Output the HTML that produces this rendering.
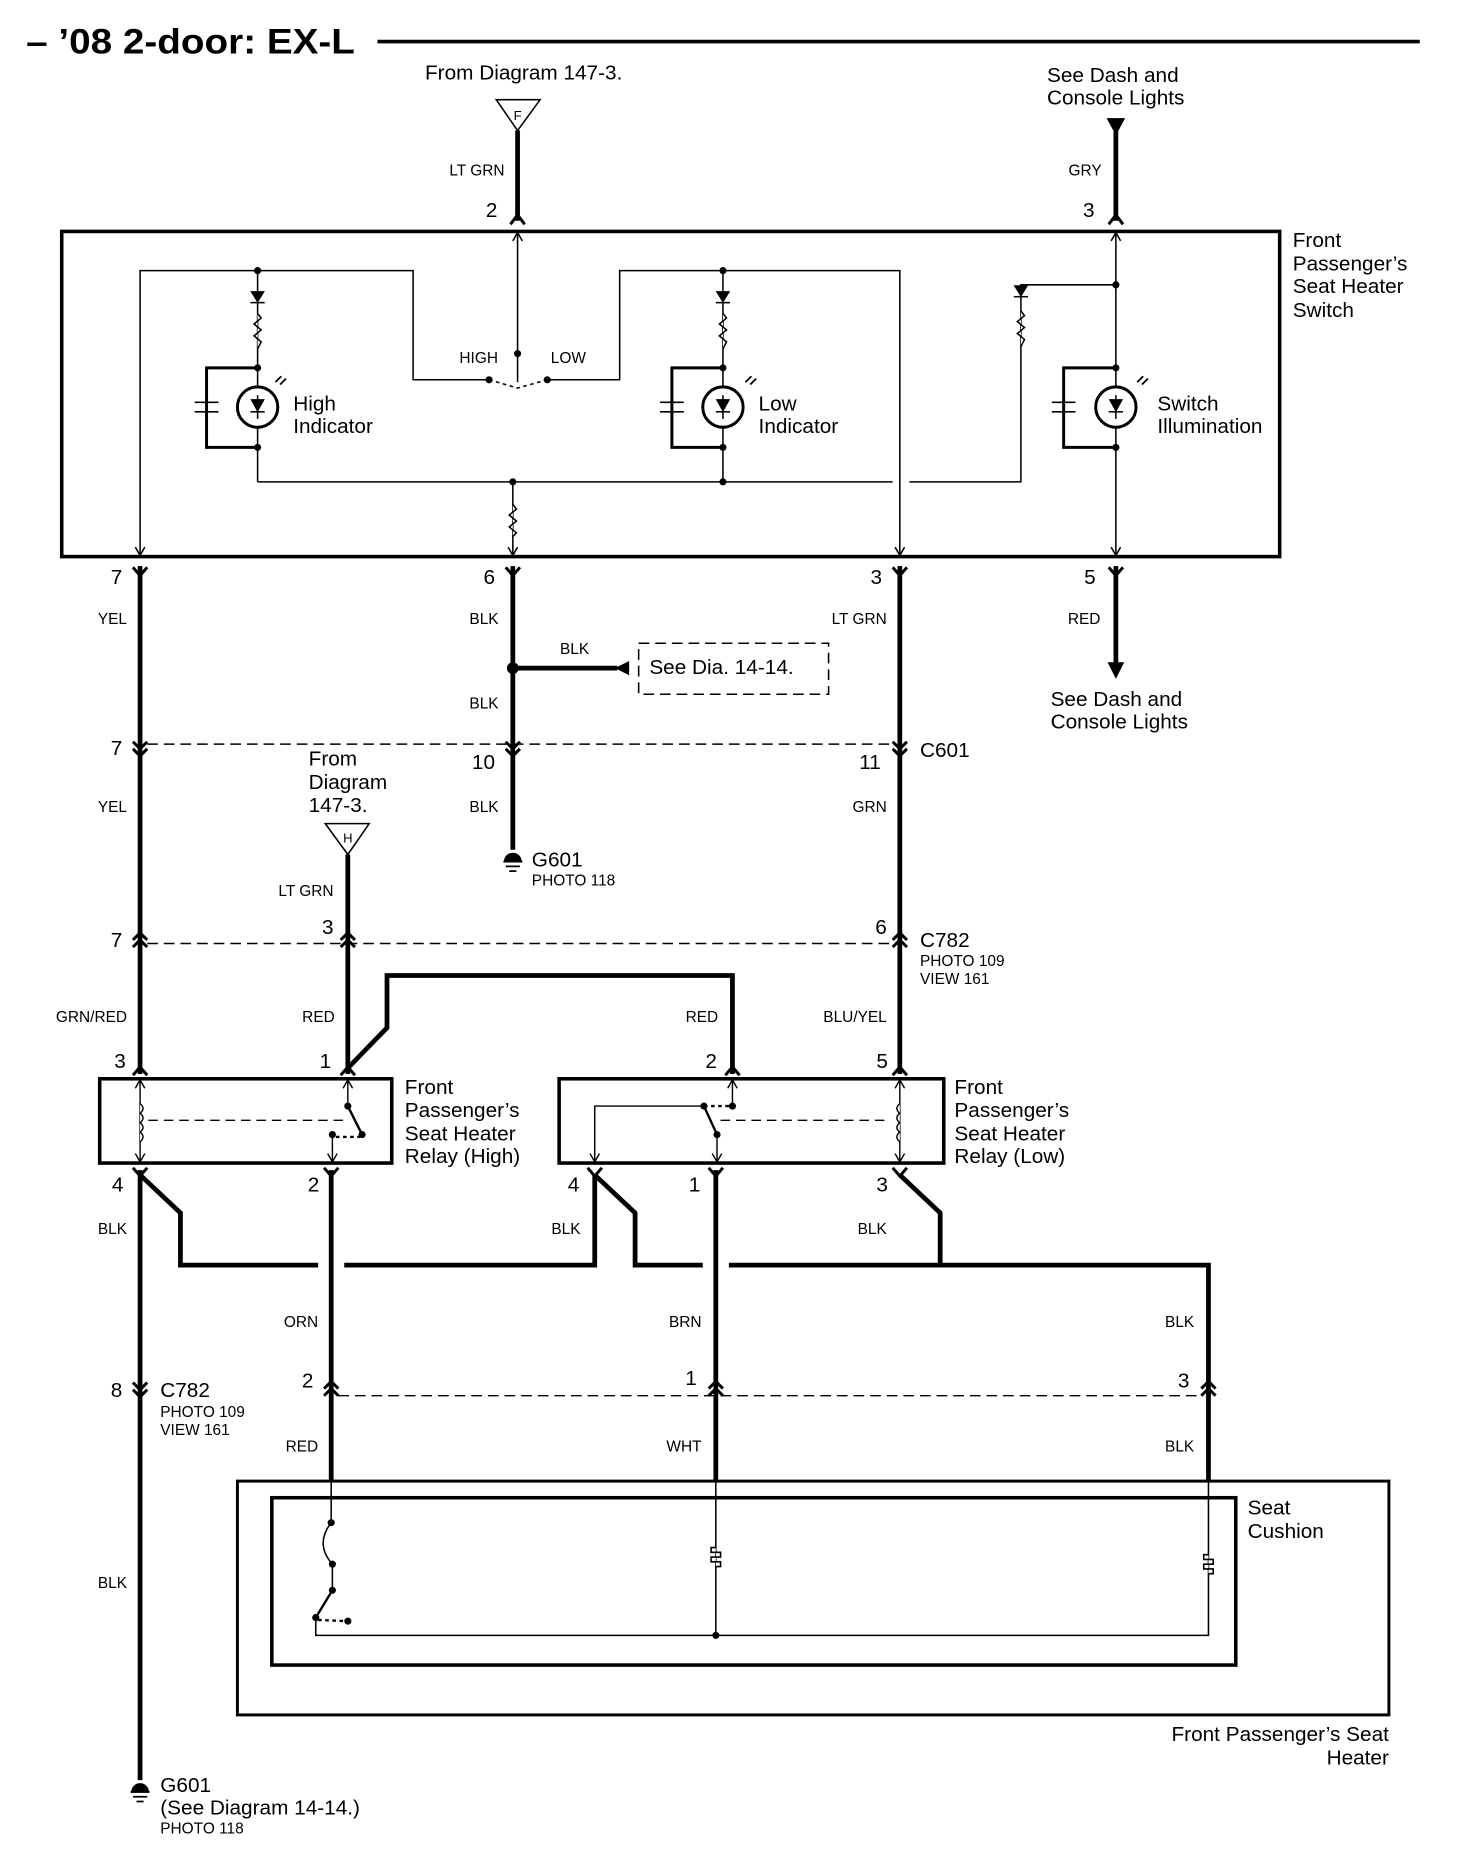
<!DOCTYPE html>
<html><head><meta charset="utf-8"><style>
html,body{margin:0;padding:0;background:#fff}
svg{display:block}
text{font-family:"Liberation Sans",sans-serif;fill:#000}
.s{font-size:13px}.m{font-size:17.5px}
</style></head><body>
<svg width="1472" height="1868" viewBox="0 0 1240 1574" preserveAspectRatio="none" xmlns="http://www.w3.org/2000/svg">
<g stroke="#000" fill="none" stroke-linecap="butt">
<line x1="318" y1="35" x2="1196" y2="35" stroke-width="3"/>
<polygon points="418,84 455,84 436,110" stroke-width="1.3"/>
<line x1="436" y1="110" x2="436" y2="186" stroke-width="4"/>
<polygon points="933,100 947,100 940,113" fill="#000"/>
<line x1="940" y1="100" x2="940" y2="186" stroke-width="4"/>
<polyline points="430,189 436,181 442,189" stroke-width="2.5"/>
<polyline points="934,189 940,181 946,189" stroke-width="2.5"/>
<rect x="52" y="195" width="1026" height="274" stroke-width="3"/>
<g stroke-width="1.3">
<line x1="436" y1="195" x2="436" y2="322"/>
<polyline points="432,203 436,196 440,203"/>
<polyline points="118,469 118,228 348,228 348,320 412,320"/>
<polyline points="114,461 118,468 122,461"/>
<polyline points="461,320 522,320 522,228 758,228 758,469"/>
<polyline points="754,461 758,468 762,461"/>
<path d="M412,320 L436,327 L461,320" stroke-dasharray="3,3"/>
<line x1="217" y1="228" x2="217" y2="326"/>
<line x1="217" y1="360" x2="217" y2="406"/>
<polygon points="212,246 222,246 217,254" fill="#000"/><line x1="211" y1="255" x2="223" y2="255"/>
<polyline points="217,264 220,268 214,273 220,278 214,283 220,288 217,294" fill="#fff"/>
<circle cx="217" cy="343" r="17" stroke-width="2.5" fill="#fff"/>
<polygon points="212,337 222,337 217,346" fill="#000"/><line x1="211" y1="347" x2="223" y2="347"/><line x1="217" y1="333" x2="217" y2="353"/>
<polyline points="217,310 174,310 174,377 217,377" stroke-width="2.5"/>
<line x1="164" y1="339" x2="184" y2="339"/><line x1="164" y1="347" x2="184" y2="347"/>
<line x1="609" y1="228" x2="609" y2="326"/>
<line x1="609" y1="360" x2="609" y2="406"/>
<polygon points="604,246 614,246 609,254" fill="#000"/><line x1="603" y1="255" x2="615" y2="255"/>
<polyline points="609,264 612,268 606,273 612,278 606,283 612,288 609,294" fill="#fff"/>
<circle cx="609" cy="343" r="17" stroke-width="2.5" fill="#fff"/>
<polygon points="604,337 614,337 609,346" fill="#000"/><line x1="603" y1="347" x2="615" y2="347"/><line x1="609" y1="333" x2="609" y2="353"/>
<polyline points="609,310 566,310 566,377 609,377" stroke-width="2.5"/>
<line x1="556" y1="339" x2="576" y2="339"/><line x1="556" y1="347" x2="576" y2="347"/>
<line x1="217" y1="406" x2="752" y2="406"/>
<polyline points="766,406 860,406 860,240 940,240"/>
<line x1="432" y1="406" x2="432" y2="469"/>
<polyline points="432,425 435,429 429,434 435,439 429,444 435,449 432,452" fill="#fff"/>
<polyline points="428,461 432,468 436,461"/>
<polygon points="855,241 865,241 860,249" fill="#000"/><line x1="854" y1="250" x2="866" y2="250"/>
<polyline points="860,262 863,266 857,271 863,276 857,281 863,286 860,292" fill="#fff"/>
<line x1="940" y1="195" x2="940" y2="326"/>
<line x1="940" y1="360" x2="940" y2="469"/>
<polyline points="936,203 940,196 944,203"/>
<polyline points="936,461 940,468 944,461"/>
<circle cx="940" cy="343" r="17" stroke-width="2.5" fill="#fff"/>
<polygon points="935,337 945,337 940,346" fill="#000"/><line x1="934" y1="347" x2="946" y2="347"/><line x1="940" y1="333" x2="940" y2="353"/>
<polyline points="940,310 896,310 896,377 940,377" stroke-width="2.5"/>
<line x1="886" y1="339" x2="906" y2="339"/><line x1="886" y1="347" x2="906" y2="347"/>
</g>
<g fill="#000" stroke="none">
<circle cx="436" cy="298" r="3"/><circle cx="412" cy="320" r="3"/><circle cx="461" cy="320" r="3"/>
<circle cx="217" cy="228" r="3"/><circle cx="217" cy="310" r="3"/><circle cx="217" cy="377" r="3"/>
<circle cx="609" cy="228" r="3"/><circle cx="609" cy="310" r="3"/><circle cx="609" cy="377" r="3"/><circle cx="609" cy="406" r="3"/>
<circle cx="432" cy="406" r="3"/><circle cx="940" cy="240" r="3"/><circle cx="940" cy="310" r="3"/><circle cx="940" cy="377" r="3"/>
<circle cx="432" cy="563" r="5"/>
</g>
<g stroke-width="1.5">
<path d="M232,322 l5,-5 M236,324 l5,-5 M628,322 l5,-5 M632,324 l5,-5 M958,322 l5,-5 M962,324 l5,-5"/>
</g>
<g stroke-width="4">
<line x1="118" y1="477" x2="118" y2="905"/>
<line x1="118" y1="986" x2="118" y2="1500"/>
<line x1="432" y1="477" x2="432" y2="716"/>
<line x1="758" y1="477" x2="758" y2="905"/>
<line x1="940" y1="477" x2="940" y2="560"/>
<line x1="432" y1="563" x2="520" y2="563"/>
<line x1="293" y1="720" x2="293" y2="905"/>
<polyline points="293,900 326,866 326,822 617,822 617,905"/>
<polyline points="118,990 152,1022 152,1066 268,1066"/>
<polyline points="290,1066 501,1066 501,990"/>
<polyline points="501,990 535,1022 535,1066 592,1066"/>
<polyline points="614,1066 1018,1066 1018,1248"/>
<polyline points="758,990 792,1022 792,1066"/>
<line x1="279" y1="986" x2="279" y2="1248"/>
<line x1="603" y1="986" x2="603" y2="1248"/>
</g>
<polygon points="933,558 947,558 940,572" fill="#000" stroke="none"/>
<polygon points="530,557 530,569 518,563" fill="#000" stroke="none"/>
<polygon points="274,694 311,694 293,720" stroke-width="1.3"/>
<g stroke-width="2.5">
<path d="M112,478 l6,7 l6,-7 M426,478 l6,7 l6,-7 M752,478 l6,7 l6,-7 M934,478 l6,7 l6,-7"/>
<path d="M112,625 l6,6 l6,-6 M112,631 l6,6 l6,-6 M426,625 l6,6 l6,-6 M426,631 l6,6 l6,-6 M752,625 l6,6 l6,-6 M752,631 l6,6 l6,-6"/>
<path d="M112,792 l6,-6 l6,6 M112,798 l6,-6 l6,6 M287,792 l6,-6 l6,6 M287,798 l6,-6 l6,6 M752,792 l6,-6 l6,6 M752,798 l6,-6 l6,6"/>
<path d="M112,906 l6,-7 l6,7 M287,906 l6,-7 l6,7 M611,906 l6,-7 l6,7 M752,906 l6,-7 l6,7"/>
<path d="M112,984 l6,7 l6,-7 M273,984 l6,7 l6,-7 M495,984 l6,7 l6,-7 M597,984 l6,7 l6,-7 M752,984 l6,7 l6,-7"/>
<path d="M112,1165 l6,6 l6,-6 M112,1171 l6,6 l6,-6"/>
<path d="M273,1170 l6,-6 l6,6 M273,1176 l6,-6 l6,6 M597,1170 l6,-6 l6,6 M597,1176 l6,-6 l6,6 M1012,1170 l6,-6 l6,6 M1012,1176 l6,-6 l6,6"/>
</g>
<g stroke-width="1.2" stroke-dasharray="9,5">
<line x1="124" y1="627" x2="752" y2="627"/>
<line x1="124" y1="795" x2="752" y2="795"/>
<line x1="285" y1="1176" x2="1012" y2="1176"/>
</g>
<rect x="538" y="542" width="160" height="43" stroke-width="1.3" stroke-dasharray="9,5"/>
<g stroke-width="1.5">
<path d="M424,726 h16 M426,730 h12 M429,734 h6"/>
<path d="M110,1510 h16 M112,1514 h12 M115,1518 h6"/>
</g>
<path d="M425,726 a7,7 0 0 1 14,0 z" fill="#000"/>
<path d="M111,1510 a7,7 0 0 1 14,0 z" fill="#000"/>
<rect x="84" y="909" width="246" height="71" stroke-width="3"/>
<rect x="471" y="909" width="324" height="71" stroke-width="3"/>
<g stroke-width="1.2">
<line x1="118" y1="909" x2="118" y2="980"/>
<path d="M114,917 l4,-7 l4,7 M114,972 l4,7 l4,-7"/>
<path d="M118,930 q5,4 0,8 q5,4 0,8 q5,4 0,8 q5,4 0,8" fill="#fff"/>
<line x1="125" y1="944" x2="292" y2="944" stroke-dasharray="8,5"/>
<line x1="293" y1="909" x2="293" y2="932"/>
<path d="M289,917 l4,-7 l4,7"/>
<line x1="293" y1="932" x2="305" y2="956" stroke-width="2"/>
<line x1="280" y1="956" x2="280" y2="980"/><path d="M276,972 l4,7 l4,-7"/>
<line x1="283" y1="958" x2="303" y2="958" stroke-dasharray="3,3" stroke-width="2"/>
<line x1="758" y1="909" x2="758" y2="980"/>
<path d="M754,917 l4,-7 l4,7 M754,972 l4,7 l4,-7"/>
<path d="M758,930 q-5,4 0,8 q-5,4 0,8 q-5,4 0,8 q-5,4 0,8" fill="#fff"/>
<line x1="607" y1="944" x2="750" y2="944" stroke-dasharray="8,5"/>
<line x1="617" y1="909" x2="617" y2="932"/><path d="M613,917 l4,-7 l4,7"/>
<line x1="593" y1="932" x2="615" y2="932" stroke-dasharray="3,3" stroke-width="2"/>
<polyline points="593,932 501,932 501,980"/><path d="M497,972 l4,7 l4,-7"/>
<line x1="593" y1="932" x2="604" y2="956" stroke-width="2"/>
<line x1="604" y1="956" x2="604" y2="980"/><path d="M600,972 l4,7 l4,-7"/>
</g>
<g fill="#000" stroke="none">
<circle cx="293" cy="932" r="3"/><circle cx="305" cy="956" r="3"/><circle cx="280" cy="956" r="3"/>
<circle cx="617" cy="932" r="3"/><circle cx="593" cy="932" r="3"/><circle cx="604" cy="956" r="3"/>
</g>
<rect x="200" y="1248" width="970" height="197" stroke-width="2.5"/>
<rect x="229" y="1262" width="812" height="141" stroke-width="3"/>
<g stroke-width="1.3">
<line x1="279" y1="1248" x2="279" y2="1283"/>
<path d="M279,1283 q-14,18 1,35"/>
<line x1="280" y1="1318" x2="280" y2="1340"/>
<line x1="280" y1="1340" x2="266" y2="1363" stroke-width="2"/>
<line x1="268" y1="1365" x2="293" y2="1366" stroke-dasharray="3,3" stroke-width="2"/>
<polyline points="266,1363 266,1378 1018,1378 1018,1248"/>
<line x1="603" y1="1248" x2="603" y2="1378"/>
<path d="M603,1304 h-4 v4 h8 v4 h-8 v4 h8 v4 h-4" fill="#fff"/>
<path d="M1018,1310 h-4 v4 h8 v4 h-8 v4 h8 v4 h-4" fill="#fff"/>
</g>
<g fill="#000" stroke="none">
<circle cx="279" cy="1283" r="3"/><circle cx="280" cy="1318" r="3"/><circle cx="280" cy="1340" r="3"/><circle cx="266" cy="1363" r="3"/><circle cx="293" cy="1366" r="3"/><circle cx="603" cy="1378" r="3"/>
</g>
</g>
<text x="22" y="45" font-size="30" font-weight="bold" textLength="277" lengthAdjust="spacingAndGlyphs">– ’08 2-door: EX-L</text>
<text x="358" y="67" class="m">From Diagram 147-3.</text>
<text x="436" y="101" font-size="11" text-anchor="middle">F</text>
<text x="293" y="710" font-size="11" text-anchor="middle">H</text>
<text x="882" y="69" class="m">See Dash and</text>
<text x="882" y="88" class="m">Console Lights</text>
<g class="s" text-anchor="end">
<text x="425" y="148">LT GRN</text><text x="928" y="148">GRY</text>
<text x="107" y="526">YEL</text><text x="420" y="526">BLK</text><text x="747" y="526">LT GRN</text><text x="927" y="526">RED</text>
<text x="420" y="597">BLK</text>
<text x="107" y="684">YEL</text><text x="420" y="684">BLK</text><text x="747" y="684">GRN</text>
<text x="281" y="755">LT GRN</text>
<text x="107" y="861">GRN/RED</text><text x="282" y="861">RED</text><text x="605" y="861">RED</text><text x="747" y="861">BLU/YEL</text>
<text x="107" y="1040">BLK</text><text x="489" y="1040">BLK</text><text x="747" y="1040">BLK</text>
<text x="268" y="1118">ORN</text><text x="591" y="1118">BRN</text><text x="1006" y="1118">BLK</text>
<text x="268" y="1223">RED</text><text x="591" y="1223">WHT</text><text x="1006" y="1223">BLK</text>
<text x="107" y="1338">BLK</text>
</g>
<text x="484" y="551" class="s" text-anchor="middle">BLK</text>
<text x="387" y="306" class="s">HIGH</text><text x="464" y="306" class="s">LOW</text>
<g class="m" text-anchor="end">
<text x="419" y="183">2</text><text x="922" y="183">3</text>
<text x="103" y="492">7</text><text x="417" y="492">6</text><text x="743" y="492">3</text><text x="923" y="492">5</text>
<text x="103" y="636">7</text><text x="417" y="648">10</text><text x="742" y="648">11</text>
<text x="103" y="798">7</text><text x="281" y="787">3</text><text x="747" y="787">6</text>
<text x="106" y="900">3</text><text x="279" y="900">1</text><text x="604" y="900">2</text><text x="748" y="900">5</text>
<text x="104" y="1004">4</text><text x="269" y="1004">2</text><text x="488" y="1004">4</text><text x="590" y="1004">1</text><text x="748" y="1004">3</text>
<text x="103" y="1177">8</text><text x="264" y="1169">2</text><text x="587" y="1167">1</text><text x="1002" y="1169">3</text>
</g>
<g class="m">
<text x="1089" y="208">Front</text><text x="1089" y="228">Passenger’s</text><text x="1089" y="247">Seat Heater</text><text x="1089" y="267">Switch</text>
<text x="247" y="346">High</text><text x="247" y="365">Indicator</text>
<text x="639" y="346">Low</text><text x="639" y="365">Indicator</text>
<text x="975" y="346">Switch</text><text x="975" y="365">Illumination</text>
<text x="547" y="568">See Dia. 14-14.</text>
<text x="885" y="595">See Dash and</text><text x="885" y="614">Console Lights</text>
<text x="775" y="638">C601</text>
<text x="260" y="645">From</text><text x="260" y="665">Diagram</text><text x="260" y="684">147-3.</text>
<text x="448" y="730">G601</text>
<text x="775" y="798">C782</text>
<text x="341" y="922">Front</text><text x="341" y="941">Passenger’s</text><text x="341" y="961">Seat Heater</text><text x="341" y="980">Relay (High)</text>
<text x="804" y="922">Front</text><text x="804" y="941">Passenger’s</text><text x="804" y="961">Seat Heater</text><text x="804" y="980">Relay (Low)</text>
<text x="135" y="1177">C782</text>
<text x="1051" y="1276">Seat</text><text x="1051" y="1296">Cushion</text>
<text x="1170" y="1467" text-anchor="end">Front Passenger’s Seat</text><text x="1170" y="1487" text-anchor="end">Heater</text>
<text x="135" y="1510">G601</text><text x="135" y="1529">(See Diagram  14-14.)</text>
</g>
<g class="s">
<text x="448" y="746">PHOTO 118</text>
<text x="775" y="814">PHOTO 109</text><text x="775" y="829">VIEW 161</text>
<text x="135" y="1194">PHOTO 109</text><text x="135" y="1209">VIEW 161</text>
<text x="135" y="1545">PHOTO 118</text>
</g>
</svg>
</body></html>
